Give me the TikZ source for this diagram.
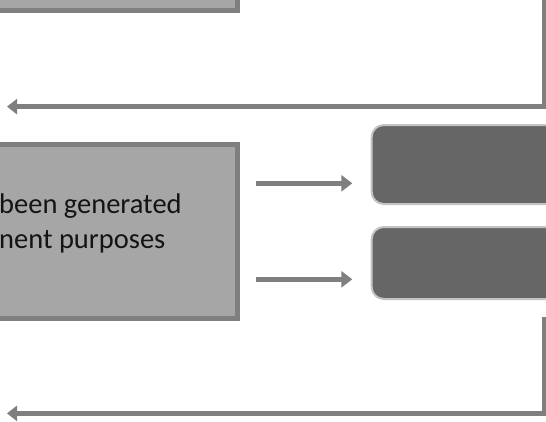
\documentclass[tikz,border=0pt]{standalone}
\usepackage{fontspec}
\setmainfont{Carlito}
\usetikzlibrary{arrows.meta,calc}
\definecolor{lgray}{HTML}{A6A6A6}
\definecolor{mgray}{HTML}{7F7F7F}
\definecolor{dgray}{HTML}{666666}
\definecolor{bgray}{HTML}{C4C4C4}
\definecolor{txt}{HTML}{141414}
\begin{document}
\begin{tikzpicture}[x=1pt,y=-1pt,
  graybox/.style={draw=mgray,fill=lgray,line width=5pt,inner sep=0pt,rectangle},
  darkbox/.style={draw=bgray,fill=dgray,line width=2pt,inner sep=0pt,rectangle,rounded corners=12pt},
  conn/.style={draw=mgray,line width=4.6pt,line join=miter,-{Triangle[length=10pt,width=15pt]}},
  shortarr/.style={draw=mgray,line width=4.8pt,-{Triangle[length=11pt,width=16pt]}},
  lbl/.style={text=txt,font=\fontsize{28.5}{35}\selectfont,inner sep=0pt,anchor=base west}]
\useasboundingbox (0,0) rectangle (546,421);
\fill[white] (0,0) rectangle (546,421);
\clip (0,0) rectangle (546,421);
% boxes
\node[graybox,minimum width=287.5pt,minimum height=70.3pt] (top) at (93.75,-24.85) {};
\node[graybox,minimum width=287.5pt,minimum height=173.5pt] (mid) at (93.75,231.25) {};
\node[lbl] (t1) at (-1,213) {been generated};
\node[lbl] (t2) at (-1,248) {nent purposes};
\node[darkbox,minimum width=248.3pt,minimum height=79pt] (b1) at (495.85,164.5) {};
\node[darkbox,minimum width=248.3pt,minimum height=72pt] (b2) at (495.85,263) {};
% short arrows
\draw[shortarr] ($(mid.east)+(16,-47.95)$) -- ($(b1.west)+(-18.4,18.8)$);
\draw[shortarr] ($(mid.east)+(16,48.05)$) -- ($(b2.west)+(-18.4,16.3)$);
% return connectors
\coordinate (c1a) at (544,-5);
\coordinate (c1b) at (7,106.6);
\draw[conn] (c1a) |- (c1b);
\coordinate (c2a) at (544,317.3);
\coordinate (c2b) at (7,413.4);
\draw[conn] (c2a) |- (c2b);
\end{tikzpicture}
\end{document}
